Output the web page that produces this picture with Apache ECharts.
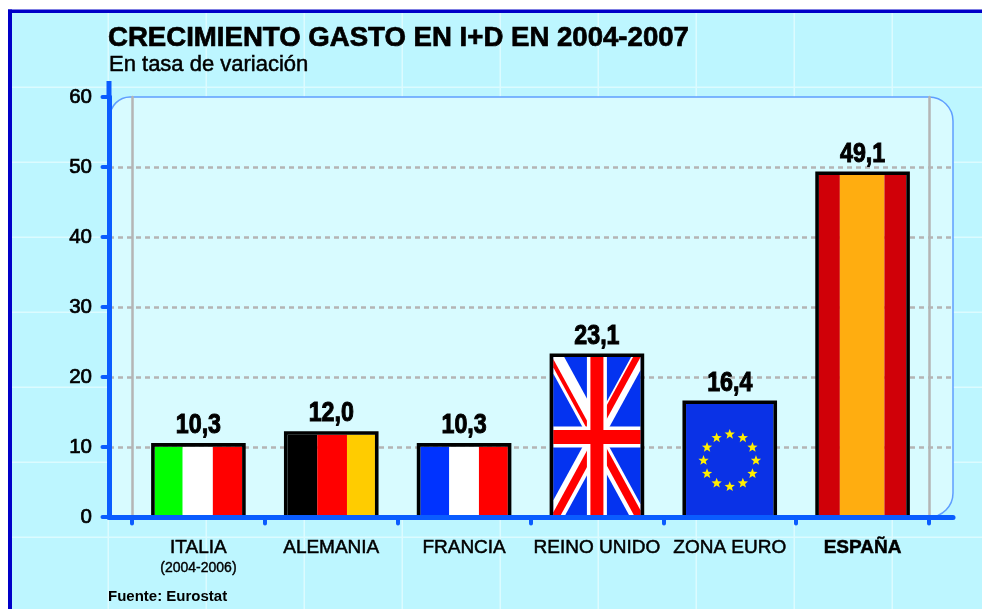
<!DOCTYPE html>
<html>
<head>
<meta charset="utf-8">
<style>html,body{margin:0;padding:0;background:#fff}#c{width:982px;height:609px}</style>
<script src="https://cdn.jsdelivr.net/npm/echarts@6/dist/echarts.min.js"></script>
</head>
<body>
<div id="c"></div>
<script>
const categories = ['ITALIA', 'ALEMANIA', 'FRANCIA', 'REINO UNIDO', 'ZONA EURO', 'ESPAÑA'];
const values = [10.3, 12.0, 10.3, 23.1, 16.4, 49.1];
const flagKinds = ['it', 'de', 'fr', 'uk', 'eu', 'es'];
const yTicks = [0, 10, 20, 30, 40, 50, 60];
const titleText = 'CRECIMIENTO GASTO EN I+D EN 2004-2007';
const subtitleText = 'En tasa de variación';
const sourceText = 'Fuente: Eurostat';
const italyNote = '(2004-2006)';

const FONT = '"Liberation Sans", Arial, sans-serif';
const stripes = {
  it: [[0.32, '#00ff00'], [0.665, '#ffffff'], [1, '#ff0000']],
  de: [[0.34, '#000000'], [0.68, '#ff0000'], [1, '#ffcc00']],
  fr: [[0.33, '#0033ff'], [0.67, '#ffffff'], [1, '#ff0000']],
  es: [[0.24, '#d00008'], [0.75, '#ffad10'], [1, '#d00008']]
};

function clipPoly(poly, x0, y0, x1, y1) {
  const edges = [
    [p => p[0] >= x0, (a, b) => { const t = (x0 - a[0]) / (b[0] - a[0]); return [x0, a[1] + t * (b[1] - a[1])]; }],
    [p => p[0] <= x1, (a, b) => { const t = (x1 - a[0]) / (b[0] - a[0]); return [x1, a[1] + t * (b[1] - a[1])]; }],
    [p => p[1] >= y0, (a, b) => { const t = (y0 - a[1]) / (b[1] - a[1]); return [a[0] + t * (b[0] - a[0]), y0]; }],
    [p => p[1] <= y1, (a, b) => { const t = (y1 - a[1]) / (b[1] - a[1]); return [a[0] + t * (b[0] - a[0]), y1]; }]
  ];
  let out = poly;
  edges.forEach(([inside, cut]) => {
    const res = [];
    out.forEach((p, i) => {
      const q = out[(i + 1) % out.length];
      if (inside(p)) { res.push(p); if (!inside(q)) res.push(cut(p, q)); }
      else if (inside(q)) res.push(cut(p, q));
    });
    out = res;
  });
  return out;
}

function ukFlag(x, y, w, h) {
  const ch = [{ type: 'rect', shape: { x, y, width: w, height: h }, style: { fill: '#0433f0' } }];
  const cx = x + w / 2, cy = y + h / 2;
  const add = (poly, fill) => {
    const p = clipPoly(poly, x, y, x + w, y + h);
    if (p.length > 2) ch.push({ type: 'polygon', shape: { points: p }, style: { fill } });
  };
  // corner x, corner y, white band offsets, red stripe offsets
  const arms = [
    [x, y, -9, 11, -5.5, -1],
    [x + w, y, -9.5, 7, -7.5, 0],
    [x, y + h, -9, 11, -2.5, 6.5],
    [x + w, y + h, -10.5, 7, -5.7, 3.5]
  ];
  arms.forEach(([ax, ay, w0, w1, r0, r1]) => {
    const band = (o0, o1) => [[ax + o0, ay], [ax + o1, ay], [cx + o1, cy], [cx + o0, cy]];
    add(band(w0, w1), '#ffffff');
    add(band(r0, r1), '#ff0000');
  });
  add([[cx - 10, y], [cx + 10, y], [cx + 10, y + h], [cx - 10, y + h]], '#ffffff');
  add([[x, cy - 10.5], [x + w, cy - 10.5], [x + w, cy + 10.5], [x, cy + 10.5]], '#ffffff');
  add([[cx - 6.5, y], [cx + 6.5, y], [cx + 6.5, y + h], [cx - 6.5, y + h]], '#ff0000');
  add([[x, cy - 7], [x + w, cy - 7], [x + w, cy + 7], [x, cy + 7]], '#ff0000');
  return ch;
}

function euFlag(x, y, w, h) {
  const ch = [{ type: 'rect', shape: { x, y, width: w, height: h }, style: { fill: '#0a32e6' } }];
  const cx = x + w / 2, cy = y + h / 2, R = w * 0.3;
  for (let i = 0; i < 12; i++) {
    const a = i * Math.PI / 6;
    const sx = cx + R * Math.sin(a), sy = cy - R * Math.cos(a);
    const pts = [];
    for (let k = 0; k < 10; k++) {
      const r = k % 2 ? 2.3 : 5.4, t = k * Math.PI / 5;
      pts.push([sx + r * Math.sin(t), sy - r * Math.cos(t)]);
    }
    ch.push({ type: 'polygon', shape: { points: pts }, style: { fill: '#ffee00' } });
  }
  return ch;
}

function renderBar(params, api) {
  const i = api.value(0), v = api.value(1);
  const top = api.coord([i, v]), base = api.coord([i, 0]);
  const barW = api.size([1, 0])[0] * 0.685;
  const left = top[0] - barW / 2;
  const b = 3.6;
  const ix = left + b / 2, iy = top[1] + b / 2, iw = barW - b, ih = base[1] - iy;
  const kind = flagKinds[i];
  let flag;
  if (kind === 'uk') flag = ukFlag(ix, iy, iw, ih);
  else if (kind === 'eu') flag = euFlag(ix, iy, iw, ih);
  else {
    let prev = 0;
    flag = stripes[kind].map(([end, fill]) => {
      const r = { type: 'rect', shape: { x: ix + prev * iw, y: iy, width: (end - prev) * iw, height: ih }, style: { fill } };
      prev = end;
      return r;
    });
  }
  return {
    type: 'group',
    children: flag.concat([
      { type: 'rect', shape: { x: left, y: top[1], width: barW, height: base[1] - top[1] },
        style: { fill: 'none', stroke: '#000000', lineWidth: b } },
      { type: 'text', x: top[0], y: top[1] - 19, scaleX: 0.86,
        style: { text: v.toFixed(1).replace('.', ','), font: 'bold 27px ' + FONT, fill: '#000',
                 stroke: '#000', lineWidth: 1, textAlign: 'center', textVerticalAlign: 'middle' } }
    ])
  };
}

const deco = [];
deco.push({ type: 'rect', z: -30, shape: { x: 12, y: 13, width: 970, height: 596 }, style: { fill: '#bdf6ff' } });
for (let gx = 108; gx < 982; gx += 98) deco.push({ type: 'rect', z: -29, shape: { x: gx - 0.5, y: 13, width: 1.5, height: 596 }, style: { fill: '#dcfbff' } });
for (let gy = 87; gy < 609; gy += 75) deco.push({ type: 'rect', z: -29, shape: { x: 12, y: gy - 0.5, width: 970, height: 1.5 }, style: { fill: '#dcfbff' } });
deco.push({ type: 'rect', z: -28, shape: { x: 8, y: 9.5, width: 974, height: 3.5 }, style: { fill: '#0000c8' } });
deco.push({ type: 'rect', z: -28, shape: { x: 8, y: 9.5, width: 4, height: 600 }, style: { fill: '#0000c8' } });
deco.push({ type: 'rect', z: -27, shape: { x: 110, y: 97, width: 843, height: 420, r: [20, 24, 24, 0] },
            style: { fill: '#d8fbff', stroke: '#5f9eff', lineWidth: 1.5 } });
deco.push({ type: 'rect', z: 20, shape: { x: 106.5, y: 81, width: 5, height: 18 }, style: { fill: '#0a5cff' } });

const chart = echarts.init(document.getElementById('c'), null, { renderer: 'canvas' });
const BLUE = '#0a5cff';
const yMin = yTicks[0], yMax = yTicks[yTicks.length - 1], yStep = yTicks[1] - yTicks[0];
chart.setOption({
  animation: false,
  backgroundColor: '#ffffff',
  title: [
    { text: titleText, left: 103, top: 19, textStyle: { fontFamily: FONT, fontSize: 27.6, fontWeight: 'bold', color: '#000', textBorderColor: '#000', textBorderWidth: 0.7 } },
    { text: subtitleText, left: 104, top: 49, textStyle: { fontFamily: FONT, fontSize: 22, fontWeight: 'normal', color: '#000', textBorderColor: '#000', textBorderWidth: 0.5 } },
    { text: sourceText, left: 103, top: 584, textStyle: { fontFamily: FONT, fontSize: 15, fontWeight: 'bold', color: '#000' } }
  ],
  graphic: deco,
  grid: [
    { left: 132, right: 53, top: 97, bottom: 92 },
    { left: 109, right: 29, top: 97, bottom: 92 }
  ],
  xAxis: [
    { type: 'category', gridIndex: 0, data: categories, z: 11,
      axisLine: { show: false },
      axisTick: { show: true, length: 6.5, lineStyle: { color: BLUE, width: 4, cap: 'round' } },
      axisLabel: {
        margin: 20, interval: 0, fontFamily: FONT, fontSize: 19, color: '#000', lineHeight: 22, verticalAlign: 'top',
        textBorderColor: '#000', textBorderWidth: 0.5,
        formatter: (n) => n === 'ITALIA' ? n + '\n{sub|' + italyNote + '}' : (n === 'ESPAÑA' ? '{b|' + n + '}' : n),
        rich: {
          sub: { fontFamily: FONT, fontSize: 14, color: '#000', lineHeight: 18, textBorderColor: '#000', textBorderWidth: 0.4 },
          b: { fontFamily: FONT, fontSize: 19, fontWeight: 'bold', color: '#000', lineHeight: 22, textBorderColor: '#000', textBorderWidth: 0.5 }
        }
      },
      splitLine: { show: false } },
    { type: 'value', gridIndex: 1, min: 0, max: 1, z: 10, axisLabel: { show: false }, axisTick: { show: false }, splitLine: { show: false },
      axisLine: { show: true, onZero: false, lineStyle: { color: BLUE, width: 5 } } }
  ],
  yAxis: [
    { type: 'value', gridIndex: 0, min: yMin, max: yMax, interval: yStep, position: 'left', z: 1,
      axisLabel: { show: false }, axisTick: { show: false }, splitLine: { show: false },
      axisLine: { show: true, lineStyle: { color: '#b5b5b5', width: 2.5 } } },
    { type: 'value', gridIndex: 0, min: yMin, max: yMax, interval: yStep, position: 'right', z: 1,
      axisLabel: { show: false }, axisTick: { show: false }, splitLine: { show: false },
      axisLine: { show: true, onZero: false, lineStyle: { color: '#b5b5b5', width: 2.5 } } },
    { type: 'value', gridIndex: 1, min: yMin, max: yMax, interval: yStep, position: 'left', z: 10,
      axisLine: { show: true, onZero: false, lineStyle: { color: BLUE, width: 5 } },
      axisTick: { show: true, length: 6.5, lineStyle: { color: BLUE, width: 4, cap: 'round' } },
      axisLabel: { margin: 17, fontFamily: FONT, fontSize: 20.5, color: '#000', textBorderColor: '#000', textBorderWidth: 0.7, padding: [3, 0, 0, 0] },
      splitLine: { show: false } },
    { type: 'value', gridIndex: 1, min: yMin, max: yMax, interval: yStep, position: 'left', z: 0,
      axisLine: { show: false }, axisTick: { show: false }, axisLabel: { show: false },
      splitLine: { show: true, showMinLine: false, showMaxLine: false, lineStyle: { color: '#b4b4b4', width: 2.5, type: [5, 4] } } }
  ],
  series: [{
    type: 'custom', xAxisIndex: 0, yAxisIndex: 0, z: 5, clip: false,
    renderItem: renderBar,
    encode: { x: 0, y: 1 },
    data: values.map((v, i) => [i, v])
  }]
});
</script>
</body>
</html>
